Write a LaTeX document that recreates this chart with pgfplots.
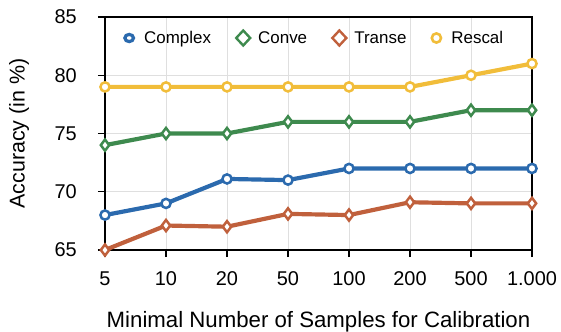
\documentclass[border=0pt]{standalone}
\usepackage{pgfplots}
\pgfplotsset{compat=1.18}
\usepackage{fontspec}
\setmainfont{Liberation Sans}
\definecolor{cblue}{HTML}{2B6AAE}
\definecolor{cgreen}{HTML}{3E8A4E}
\definecolor{corange}{HTML}{C0603C}
\definecolor{cyellow}{HTML}{F1BD3A}
\begin{document}
\begin{tikzpicture}[x=1bp,y=1bp]
\path[use as bounding box] (-105,-81) rectangle (456,250);
\begin{axis}[
  at={(0,0)}, anchor=south west,
  scale only axis, width=427bp, height=233bp,
  xmin=0, xmax=7, ymin=65, ymax=85,
  xtick={0,...,7},
  xticklabels={5,10,20,50,100,200,500,1.000},
  ytick={65,70,75,80,85},
  /pgf/number format/assume math mode=true,
  tick label style={font=\fontsize{20}{20}\selectfont},
  yticklabel style={anchor=east, inner sep=0pt, xshift=-21bp},
  xticklabel style={anchor=base, inner sep=0pt, yshift=-28bp},
  tick align=outside, tick pos=left,
  major tick length=7bp,
  axis line style={line width=1.6pt},
  major tick style={line width=1.4pt, black},
  grid=major,
  grid style={gray!25, line width=0.7pt},
  xlabel={Minimal Number of Samples for Calibration},
  ylabel={Accuracy (in \%)},
  every axis x label/.style={at={(rel axis cs:0.5,0)}, anchor=base, yshift=-77bp, inner sep=0pt, font=\fontsize{22.3}{22.3}\selectfont},
  every axis y label/.style={at={(rel axis cs:0,0.5)}, xshift=-86bp, rotate=90, anchor=center, inner sep=0pt, font=\fontsize{21.5}{21.5}\selectfont},
  legend style={draw=none, fill=none, at={(rel axis cs:0,1)}, anchor=west,
    xshift=18bp, yshift=-21bp, inner sep=0pt,
    legend columns=4, font=\fontsize{17}{17}\selectfont,
    /tikz/every even column/.append style={column sep=22bp}},
  legend cell align=left,
  every axis plot/.append style={line width=4.2pt},
]
\addplot[cblue, mark=*, mark size=4.6pt, mark options={fill=white, solid, line width=2.5pt},
  legend image code/.code={\path[draw=none, fill=none] (-6bp,-6bp) rectangle (13bp,6bp); \draw[cblue, fill=white, line width=3.2pt] (0,0) ellipse (4.3bp and 3.6bp);}]
  coordinates {(0,68) (1,69) (2,71.1) (3,71) (4,72) (5,72) (6,72) (7,72)};
\addlegendentry{Complex}
\addplot[cgreen, mark=diamond*, mark size=5.6pt, mark options={fill=white, solid, line width=2.5pt},
  legend image code/.code={\path[draw=none, fill=none] (-6bp,-6bp) rectangle (13bp,6bp); \draw[cgreen, fill=white, line width=2.4pt] (-7bp,0) -- (0,7.5bp) -- (7bp,0) -- (0,-7.5bp) -- cycle;}]
  coordinates {(0,74) (1,75) (2,75) (3,76) (4,76) (5,76) (6,77) (7,77)};
\addlegendentry{Conve}
\addplot[corange, mark=diamond*, mark size=5.6pt, mark options={fill=white, solid, line width=2.5pt},
  legend image code/.code={\path[draw=none, fill=none] (-6bp,-6bp) rectangle (13bp,6bp); \draw[corange, fill=white, line width=2.4pt] (-7bp,0) -- (0,7.5bp) -- (7bp,0) -- (0,-7.5bp) -- cycle;}]
  coordinates {(0,65) (1,67.1) (2,67) (3,68.1) (4,68) (5,69.1) (6,69) (7,69)};
\addlegendentry{Transe}
\addplot[cyellow, mark=*, mark size=4.6pt, mark options={fill=white, solid, line width=2.5pt},
  legend image code/.code={\path[draw=none, fill=none] (-6bp,-6bp) rectangle (13bp,6bp); \draw[cyellow, fill=white, line width=2.6pt] (0,0) circle (4.6bp);}]
  coordinates {(0,79) (1,79) (2,79) (3,79) (4,79) (5,79) (6,80) (7,81)};
\addlegendentry{Rescal}
\end{axis}
\end{tikzpicture}
\end{document}
